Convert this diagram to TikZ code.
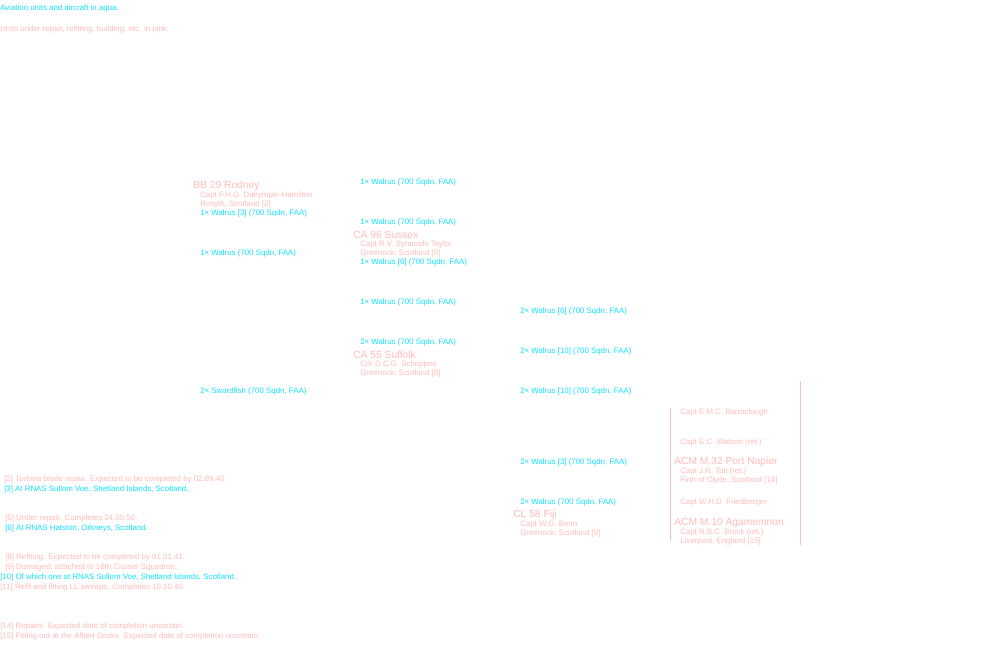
\documentclass[tikz,border=0pt]{standalone}
\usepackage{fontspec}
\setmainfont{Liberation Sans}
\usetikzlibrary{positioning}

\definecolor{aquaunit}{RGB}{20,225,255}
\definecolor{pinkunit}{RGB}{255,188,188}

\tikzset{
 entry/.style = {anchor=west, inner sep=0pt, yshift=-1.5pt, font=\fontsize{5.6}{6}\selectfont},
 aqua/.style = {entry, text=aquaunit},
 rose/.style = {entry, text=pinkunit},
 ship/.style = {rose, font=\fontsize{7.3}{8}\selectfont},
 bracket/.style = {pinkunit, line width=0.5pt}
}

\begin{document}
\begin{tikzpicture}[x=0.025cm, y=-0.025cm]
 \fill[white] (0,0) rectangle (1000,650);
 \useasboundingbox (0,0) rectangle (1000,650);
 % key
 \node[aqua] (keyaqua) at (0,6) {Aviation units and aircraft in aqua.};
 \node[rose] (keypink) at (0,27) {Units under repair, refitting, building, etc. in pink.};

 % Rodney
 \node[ship] (rodney) at (193,184) {BB 29 Rodney};
 \node[rose] (rodneycapt) at (200,193) {Capt F.H.G. Dalrymple-Hamilton};
 \node[rose] (rodneyport) at (200,202) {Rosyth, Scotland [2]};
 \node[aqua] (rodneyac) at (200,211) {1× Walrus [3] (700 Sqdn, FAA)};
 \node[aqua] (colaA) at (200,251) {1× Walrus (700 Sqdn, FAA)};
 \node[aqua] (colaB) at (200,389) {2× Swordfish (700 Sqdn, FAA)};

 % middle column
 \node[aqua] (colbA) at (360,180) {1× Walrus (700 Sqdn, FAA)};
 \node[aqua] (colbB) at (360,220) {1× Walrus (700 Sqdn, FAA)};
 \node[ship] (sussex) at (353,233) {CA 96 Sussex};
 \node[rose] (sussexcapt) at (360,242) {Capt R.V. Symonds Taylor};
 \node[rose] (sussexport) at (360,251) {Greenock, Scotland [5]};
 \node[aqua] (sussexac) at (360,260) {1× Walrus [6] (700 Sqdn, FAA)};
 \node[aqua] (colbC) at (360,300) {1× Walrus (700 Sqdn, FAA)};
 \node[aqua] (colbD) at (360,340) {2× Walrus (700 Sqdn, FAA)};
 \node[ship] (suffolk) at (353,353) {CA 55 Suffolk};
 \node[rose] (suffolkcapt) at (360,362) {Cdr D.C.G. Schoppee};
 \node[rose] (suffolkport) at (360,371) {Greenock, Scotland [8]};

 % right column
 \node[aqua] (colcA) at (520,309) {2× Walrus [6] (700 Sqdn, FAA)};
 \node[aqua] (colcB) at (520,349) {2× Walrus [10] (700 Sqdn, FAA)};
 \node[aqua] (colcC) at (520,389) {2× Walrus [10] (700 Sqdn, FAA)};
 \node[aqua] (colcD) at (520,460) {2× Walrus [3] (700 Sqdn, FAA)};
 \node[aqua] (colcE) at (520,500) {2× Walrus (700 Sqdn, FAA)};
 \node[ship] (fiji) at (513,513) {CL 58 Fiji};
 \node[rose] (fijicapt) at (520,522) {Capt W.G. Benn};
 \node[rose] (fijiport) at (520,531) {Greenock, Scotland [9]};

 % armed merchant cruisers
 \draw[bracket] (670,408) -- (670,541);
 \draw[bracket] (800,381) -- (800,545);
 \node[rose] (acmA) at (680,410) {Capt E.M.C. Barraclough};
 \node[rose] (acmB) at (680,440) {Capt E.C. Watson (ret.)};
 \node[ship] (napier) at (674,460) {ACM M.32 Port Napier};
 \node[rose] (napiercapt) at (680,469) {Capt J.N. Tait (ret.)};
 \node[rose] (napierport) at (680,478) {Firth of Clyde, Scotland [14]};
 \node[rose] (acmC) at (680,500) {Capt W.H.D. Friedberger};
 \node[ship] (agamemnon) at (674,521) {ACM M.10 Agamemnon};
 \node[rose] (agamemnoncapt) at (680,530) {Capt N.B.C. Brock (ret.)};
 \node[rose] (agamemnonport) at (680,539) {Liverpool, England [15]};

 % notes
 \node[rose] (note2) at (4,477) {[2] Turbine blade repair. Expected to be completed by 02.09.40.};
 \node[aqua] (note3) at (4,487) {[3] At RNAS Sullom Voe, Shetland Islands, Scotland.};
 \node[rose] (note5) at (5,516) {[5] Under repair. Completes 24.09.50.};
 \node[aqua] (note6) at (5,526) {[6] At RNAS Hatston, Orkneys, Scotland.};
 \node[rose] (note8) at (5,555) {[8] Reftting. Expected to be completed by 01.01.41.};
 \node[rose] (note9) at (5,565) {[9] Damaged; attached to 18th Cruiser Squadron.};
 \node[aqua] (note10) at (0,575) {[10] Of which one at RNAS Sullom Voe, Shetland Islands, Scotland.};
 \node[rose] (note11) at (0,585) {[11] Refit and fitting LL sweeps. Completes 10.10.40.};
 \node[rose] (note14) at (0,624) {[14] Repairs. Expected date of completion uncertain.};
 \node[rose] (note15) at (0,634) {[15] Fitting out at the Albert Docks. Expected date of completion uncertain.};
\end{tikzpicture}
\end{document}
